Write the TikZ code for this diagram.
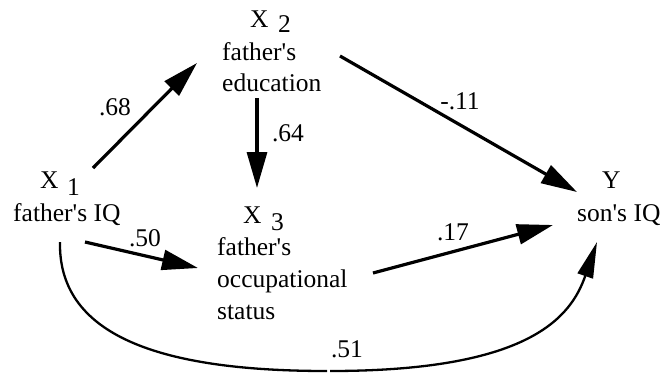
\documentclass[tikz,border=0pt]{standalone}
\usepackage{fontspec}
\setmainfont{Liberation Serif}[Ligatures=TeXOff]
\usetikzlibrary{arrows.meta}
\newcommand{\fsz}{\fontsize{25.5}{30}\selectfont}
\tikzset{
  lab/.style={inner sep=0pt, anchor=base west, font=\fsz},
  coef/.style={inner sep=0pt, font=\fsz},
  arr/.style={line width=3.2pt, -{Triangle[length=36pt,width=20pt]}},
  curv/.style={line width=2.3pt},
  curvarr/.style={line width=2.3pt, -{Triangle[length=36pt,width=16pt]}}
}
\begin{document}
\begin{tikzpicture}[x=1pt,y=-1pt]
\useasboundingbox (0,0) rectangle (666,373);
% X1
\node[lab] (x1X) at (40,188) {X};
\node[lab] (x1s) at (67,195) {1};
\node[lab] (x1lab) at (13,221) {father's IQ};
% X2
\node[lab] (x2X) at (250,27) {X};
\node[lab] (x2s) at (278,32) {2};
\node[lab] (x2lab) at (222,60) {father's};
\node[lab] (x2edu) at (222,91) {education};
% X3
\node[lab] (x3X) at (243,223) {X};
\node[lab] (x3s) at (271,230) {3};
\node[lab] (x3lab) at (217,255) {father's};
\node[lab] (x3occ) at (217,287) {occupational};
\node[lab] (x3st) at (217,319) {status};
% Y
\node[lab] (yX) at (602,188) {Y};
\node[lab] (ylab) at (577,221) {son's IQ};
% coefficients
\node[coef] (c68) at (115,107) {.68};
\node[coef] (c64) at (288,133) {.64};
\node[coef] (c11) at (460,101) {-.11};
\node[coef] (c50) at (145,238) {.50};
\node[coef] (c17) at (453,232) {.17};
\node[coef] (c51) at (347,349) {.51};
% arrows
\draw[arr] ([shift={(80,-53)}]x1lab.base west) -- ([shift={(-25,3)}]x2lab.base west);
\draw[arr] ([shift={(35,7)}]x2edu.base west) -- ([shift={(14,-35)}]x3X.base west);
\draw[arr] ([shift={(118,-4)}]x2lab.base west) -- ([shift={(-25,4)}]yX.base west);
\draw[arr] ([shift={(72,21)}]x1lab.base west) -- ([shift={(-19,13)}]x3lab.base west);
\draw[arr] ([shift={(156,-14)}]x3occ.base west) -- ([shift={(-24,4)}]ylab.base west);
% curved path X1 -> Y
\coordinate (botL) at ([shift={(-20,22)}]c51.center);
\coordinate (botR) at ([shift={(-17,22)}]c51.center);
\draw[curv] ([shift={(47,21)}]x1lab.base west) .. controls (58,340) and (170,371) .. (botL);
\draw[curvarr] (botR) .. controls (530,371) and (571,317) .. ([shift={(20,21)}]ylab.base west);
\end{tikzpicture}
\end{document}
